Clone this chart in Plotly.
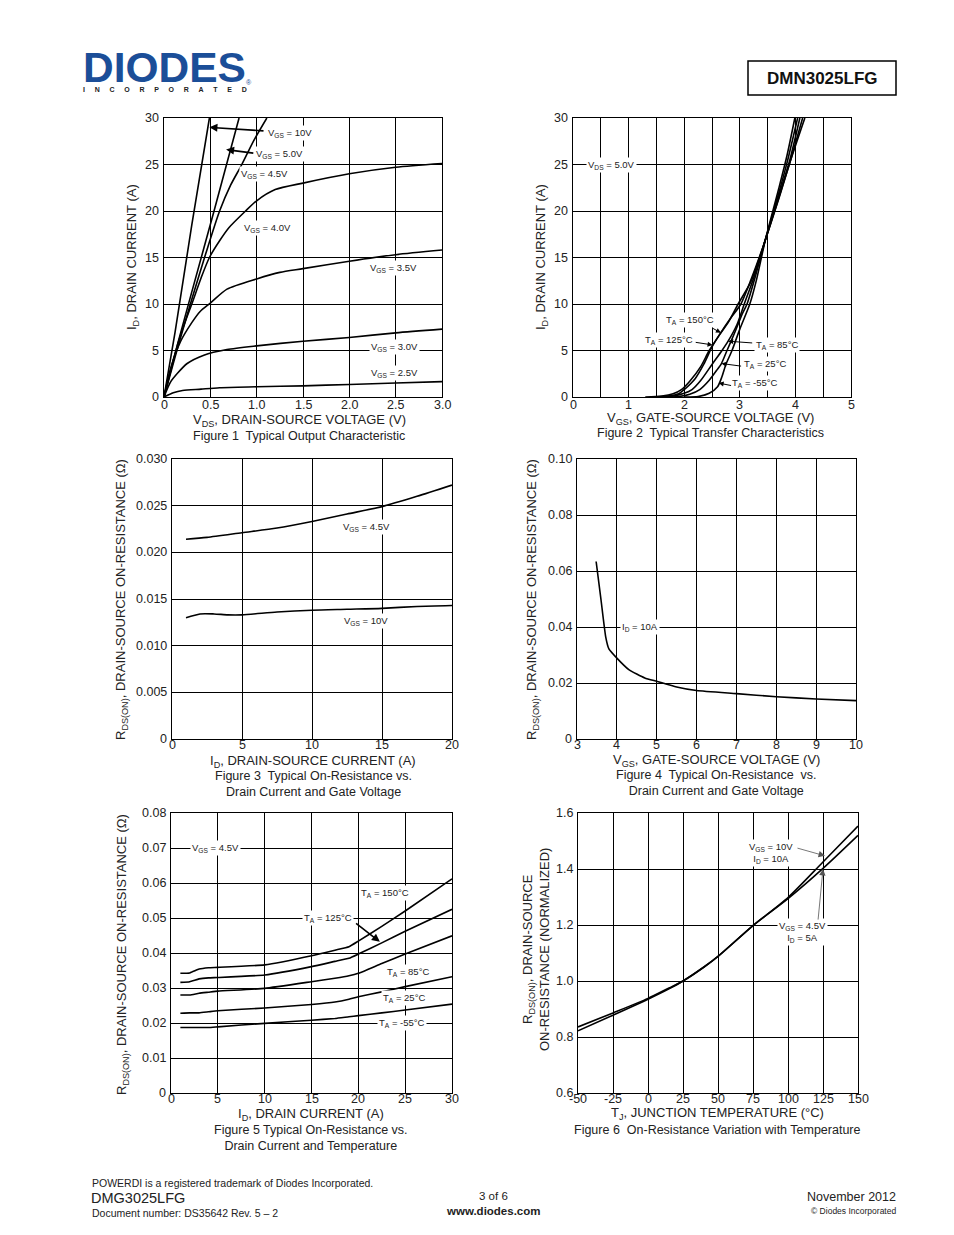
import plotly.graph_objects as go

# Page is 954x1235; the browser body keeps its default 8px margin,
# so the figure itself is 16px smaller and page pixels are shifted by 8.
PAGE_W, PAGE_H = 954, 1235
OFF = 8
W, H = PAGE_W - 2 * OFF, PAGE_H - 2 * OFF
FONT = "Liberation Sans, Arial, sans-serif"

# ---------------- Figure 1: Output characteristic ----------------
f1_vgs10_v = [0, 0.12, 0.30, 0.49]
f1_vgs10_i = [0, 7.0, 18.5, 30]
f1_vgs50_v = [0, 0.15, 0.30, 0.54, 0.81]
f1_vgs50_i = [0, 5.8, 11.3, 20.0, 30]
f1_vgs45_v = [0, 0.15, 0.30, 0.45, 0.60, 0.72, 0.84, 0.97, 1.11]
f1_vgs45_i = [0, 5.4, 10.5, 15.4, 20.0, 22.8, 25.0, 27.6, 30]
f1_vgs40_v = [0, 0.1, 0.2, 0.3, 0.4, 0.49, 0.6, 0.7, 0.88, 1.0, 1.2, 1.5, 2.0, 2.5, 3.0]
f1_vgs40_i = [0, 4.0, 7.3, 10.0, 12.8, 15.0, 16.8, 18.2, 20.0, 21.1, 22.3, 23.0, 24.0, 24.7, 25.1]
f1_vgs35_v = [0, 0.07, 0.18, 0.3, 0.39, 0.5, 0.68, 1.0, 1.25, 1.5, 2.0, 2.5, 3.0]
f1_vgs35_i = [0, 3.0, 6.0, 8.0, 9.2, 10.1, 11.6, 12.7, 13.4, 13.8, 14.6, 15.3, 15.8]
f1_vgs30_v = [0, 0.07, 0.15, 0.25, 0.43, 0.68, 1.0, 1.5, 2.0, 2.5, 3.0]
f1_vgs30_i = [0, 1.6, 2.6, 3.6, 4.5, 5.1, 5.5, 6.0, 6.4, 6.9, 7.3]
f1_vgs25_v = [0, 0.1, 0.2, 0.4, 0.6, 1.0, 1.5, 2.0, 2.5, 3.0]
f1_vgs25_i = [0, 0.45, 0.7, 0.85, 1.0, 1.1, 1.2, 1.35, 1.5, 1.65]

# ---------------- Figure 2: Transfer characteristic ----------------
f2_150_v = [1.3, 1.6, 1.8, 1.95, 2.1, 2.3, 2.45, 2.66, 2.8, 2.97, 3.2, 3.46, 3.7, 3.9, 4.17]
f2_150_i = [0, 0.1, 0.35, 0.8, 1.7, 3.3, 5.0, 6.9, 8.1, 10.0, 12.4, 16.9, 21.3, 25.2, 30]
f2_125_v = [1.4, 1.7, 1.9, 2.0, 2.2, 2.35, 2.51, 2.7, 2.85, 3.02, 3.2, 3.46, 3.7, 3.9, 4.13]
f2_125_i = [0, 0.1, 0.35, 0.8, 2.0, 3.5, 5.5, 7.3, 8.6, 10.0, 12.6, 16.9, 21.4, 25.2, 30]
f2_85_v = [1.5, 1.8, 2.0, 2.14, 2.3, 2.5, 2.68, 2.79, 2.95, 3.08, 3.25, 3.46, 3.7, 3.9, 4.08]
f2_85_i = [0, 0.1, 0.4, 0.8, 1.8, 3.5, 5.0, 6.0, 7.8, 10.0, 12.8, 16.9, 21.6, 25.5, 30]
f2_25_v = [1.6, 1.9, 2.1, 2.28, 2.45, 2.6, 2.67, 2.77, 2.9, 3.05, 3.13, 3.3, 3.46, 3.7, 3.85, 4.04]
f2_25_i = [0, 0.05, 0.3, 0.8, 1.8, 3.0, 3.6, 5.0, 6.8, 9.0, 10.0, 13.4, 16.9, 21.9, 25.2, 30]
f2_m55_v = [2.0, 2.25, 2.45, 2.6, 2.68, 2.75, 2.86, 3.0, 3.18, 3.3, 3.46, 3.7, 3.85, 3.99]
f2_m55_i = [0, 0.05, 0.4, 1.1, 2.2, 3.5, 5.0, 7.3, 10.0, 12.6, 16.9, 22.4, 26.0, 30]

# ---------------- Figure 3: RDS(on) vs ID and VGS ----------------
f3_id = [1, 2.5, 5, 7.5, 10, 12.5, 15, 17.5, 20]
f3_vgs45 = [0.0214, 0.0216, 0.0221, 0.0226, 0.0233, 0.0241, 0.0249, 0.0260, 0.0272]
f3_id10 = [1, 2, 3, 4, 5, 7.5, 10, 12.5, 15, 17.5, 20]
f3_vgs10 = [0.0130, 0.0134, 0.0134, 0.0133, 0.0133, 0.0136, 0.0138, 0.0139, 0.0140, 0.0142, 0.0143]

# ---------------- Figure 4: RDS(on) vs VGS ----------------
f4_vgs = [3.48, 3.6, 3.72, 3.8, 4.0, 4.3, 4.7, 5.0, 5.5, 6.0, 7.0, 8.0, 9.0, 10.0]
f4_rds = [0.0634, 0.050, 0.0365, 0.0322, 0.0289, 0.0248, 0.0218, 0.0206, 0.0186, 0.0173, 0.0162, 0.0151, 0.0143, 0.0137]

# ---------------- Figure 5: RDS(on) vs ID and temperature ----------------
f5_id = [1, 2, 3, 4, 5, 10, 15, 17.5, 19, 20, 22.5, 25, 30]
f5_150 = [0.0342, 0.0343, 0.0354, 0.0358, 0.0359, 0.0366, 0.0392, 0.0408, 0.0418, 0.0434, 0.0476, 0.0520, 0.0612]
f5_125 = [0.0316, 0.0318, 0.0326, 0.0329, 0.0330, 0.0337, 0.0361, 0.0376, 0.0385, 0.0397, 0.0429, 0.0462, 0.0525]
f5_85 = [0.0280, 0.0280, 0.0285, 0.0288, 0.0291, 0.0299, 0.0318, 0.0328, 0.0335, 0.0342, 0.0370, 0.0397, 0.0449]
f5_25 = [0.0228, 0.0229, 0.0229, 0.0232, 0.0235, 0.0243, 0.0253, 0.0260, 0.0268, 0.0275, 0.0289, 0.0304, 0.0332]
f5_m55 = [0.0187, 0.0187, 0.0187, 0.0187, 0.0189, 0.0199, 0.0208, 0.0213, 0.0218, 0.0221, 0.0229, 0.0237, 0.0254]

# ---------------- Figure 6: normalized RDS(on) vs TJ ----------------
f6_tj = [-50, -25, 0, 15, 25, 40, 50, 75, 100, 125, 150]
f6_vgs10 = [0.822, 0.878, 0.935, 0.972, 1.0, 1.05, 1.088, 1.198, 1.298, 1.425, 1.553]
f6_vgs45 = [0.836, 0.886, 0.938, 0.975, 1.0, 1.05, 1.088, 1.198, 1.294, 1.402, 1.520]

# tick values and labels
f1_xticks = [0, 0.5, 1.0, 1.5, 2.0, 2.5, 3.0]
f1_xlabels = ["0", "0.5", "1.0", "1.5", "2.0", "2.5", "3.0"]
f1_yticks = [0, 5, 10, 15, 20, 25, 30]
f1_ylabels = ["0", "5", "10", "15", "20", "25", "30"]
f2_xticks = [0, 1, 2, 3, 4, 5]
f2_xlabels = ["0", "1", "2", "3", "4", "5"]
f3_xticks = [0, 5, 10, 15, 20]
f3_xlabels = ["0", "5", "10", "15", "20"]
f3_yticks = [0, 0.005, 0.010, 0.015, 0.020, 0.025, 0.030]
f3_ylabels = ["0", "0.005", "0.010", "0.015", "0.020", "0.025", "0.030"]
f4_xticks = [3, 4, 5, 6, 7, 8, 9, 10]
f4_xlabels = ["3", "4", "5", "6", "7", "8", "9", "10"]
f4_yticks = [0, 0.02, 0.04, 0.06, 0.08, 0.10]
f4_ylabels = ["0", "0.02", "0.04", "0.06", "0.08", "0.10"]
f5_xticks = [0, 5, 10, 15, 20, 25, 30]
f5_xlabels = ["0", "5", "10", "15", "20", "25", "30"]
f5_yticks = [0, 0.01, 0.02, 0.03, 0.04, 0.05, 0.06, 0.07, 0.08]
f5_ylabels = ["0", "0.01", "0.02", "0.03", "0.04", "0.05", "0.06", "0.07", "0.08"]
f6_xticks = [-50, -25, 0, 25, 50, 75, 100, 125, 150]
f6_xlabels = ["-50", "-25", "0", "25", "50", "75", "100", "125", "150"]
f6_yticks = [0.6, 0.8, 1.0, 1.2, 1.4, 1.6]
f6_ylabels = ["0.6", "0.8", "1.0", "1.2", "1.4", "1.6"]


def px(x):
    return (x - OFF) / W


def py(y):
    return 1 - (y - OFF) / H


fig = go.Figure()


def add(x, y, n, shape="spline", smooth=0.7):
    ax = "" if n == 1 else str(n)
    ln = dict(color="black", width=1.6, shape=shape)
    if shape == "spline":
        ln["smoothing"] = smooth
    fig.add_trace(go.Scatter(x=x, y=y, mode="lines", line=ln,
                             xaxis="x" + ax, yaxis="y" + ax,
                             showlegend=False, hoverinfo="skip"))


add(f1_vgs10_v, f1_vgs10_i, 1)
add(f1_vgs50_v, f1_vgs50_i, 1)
add(f1_vgs45_v, f1_vgs45_i, 1)
add(f1_vgs40_v, f1_vgs40_i, 1)
add(f1_vgs35_v, f1_vgs35_i, 1)
add(f1_vgs30_v, f1_vgs30_i, 1)
add(f1_vgs25_v, f1_vgs25_i, 1)

for xs, ys in [(f2_150_v, f2_150_i), (f2_125_v, f2_125_i), (f2_85_v, f2_85_i),
               (f2_25_v, f2_25_i), (f2_m55_v, f2_m55_i)]:
    add(xs, ys, 2)

add(f3_id, f3_vgs45, 3)
add(f3_id10, f3_vgs10, 3)

add(f4_vgs, f4_rds, 4, smooth=0.5)

for ys in [f5_150, f5_125, f5_85, f5_25, f5_m55]:
    add(f5_id, ys, 5, smooth=0.4)

add(f6_tj, f6_vgs10, 6)
add(f6_tj, f6_vgs45, 6)

TICKFONT = dict(family=FONT, size=12.5, color="#222")

# panel: (left, right), (top, bottom), xrange, yrange, xticks, yticks, x-label drop
panels = {
    1: ((164, 442), (118, 397), [0, 3], [0, 30], (f1_xticks, f1_xlabels), (f1_yticks, f1_ylabels), 8),
    2: ((573, 851), (118, 397), [0, 5], [0, 30], (f2_xticks, f2_xlabels), (f1_yticks, f1_ylabels), 8),
    3: ((172, 452), (459, 739), [0, 20], [0, 0.03], (f3_xticks, f3_xlabels), (f3_yticks, f3_ylabels), 6),
    4: ((577, 856), (459, 739), [3, 10], [0, 0.1], (f4_xticks, f4_xlabels), (f4_yticks, f4_ylabels), 6),
    5: ((171, 452), (813, 1093), [0, 30], [0, 0.08], (f5_xticks, f5_xlabels), (f5_yticks, f5_ylabels), 6),
    6: ((578, 858), (813, 1093), [-50, 150], [0.6, 1.6], (f6_xticks, f6_xlabels), (f6_yticks, f6_ylabels), 6),
}

ann = []
layout_axes = {}
for n, (xd, yd, xr, yr, xt, yt, drop) in panels.items():
    s = "" if n == 1 else str(n)
    common = dict(showline=True, mirror=True, linecolor="black", linewidth=1,
                  showgrid=True, gridcolor="black", gridwidth=1, zeroline=False,
                  ticks="", showticklabels=False, tickmode="array", fixedrange=True)
    xa = dict(common, domain=[px(xd[0]), px(xd[1])], range=xr, tickvals=xt[0], anchor="y" + s)
    ya = dict(common, domain=[py(yd[1]), py(yd[0])], range=yr, tickvals=yt[0], anchor="x" + s)
    layout_axes["xaxis" + s] = xa
    layout_axes["yaxis" + s] = ya
    # tick labels placed just like the datasheet's
    for v, t in zip(*xt):
        ann.append(dict(x=v, xref="x" + s, y=py(yd[1] + drop), yref="paper", text=t,
                        showarrow=False, xanchor="center", yanchor="middle",
                        font=TICKFONT))
    for v, t in zip(*yt):
        ann.append(dict(x=px(xd[0] - 3), xref="paper", y=v, yref="y" + s, text=t,
                        showarrow=False, xanchor="right", yanchor="middle",
                        font=TICKFONT))

# half-volt grid in figure 2
layout_axes["xaxis2"]["minor"] = dict(dtick=0.5, showgrid=True, gridcolor="black",
                                      gridwidth=1, ticks="")


def ptxt(x, y, text, size=13, angle=0, xanchor="center", color="#222", family=FONT):
    ann.append(dict(x=px(x), y=py(y), xref="paper", yref="paper", text=text,
                    showarrow=False, textangle=angle, xanchor=xanchor,
                    yanchor="middle", font=dict(family=family, size=size, color=color)))


def dlabel(n, x, y, text, size=9.5):
    s = "" if n == 1 else str(n)
    ann.append(dict(x=x, y=y, xref="x" + s, yref="y" + s, text=text, showarrow=False,
                    bgcolor="white", borderpad=1,
                    font=dict(family=FONT, size=size, color="#222")))


def darrow(n, hx, hy, tx, ty, width=1.3, color="black", head=2, size=1.0):
    s = "" if n == 1 else str(n)
    ann.append(dict(x=hx, y=hy, ax=tx, ay=ty, xref="x" + s, yref="y" + s,
                    axref="x" + s, ayref="y" + s, text="", showarrow=True,
                    arrowhead=head, arrowsize=size, arrowwidth=width, arrowcolor=color,
                    standoff=0, startstandoff=0))


# Figure 1 labels
dlabel(1, 1.36, 28.4, "V<sub>GS</sub> = 10V")
darrow(1, 0.49, 29.0, 1.09, 28.6, width=1.6)
dlabel(1, 1.25, 26.1, "V<sub>GS</sub> = 5.0V")
darrow(1, 0.67, 26.6, 0.98, 26.2, width=1.6)
dlabel(1, 1.08, 24.0, "V<sub>GS</sub> = 4.5V")
dlabel(1, 1.12, 18.2, "V<sub>GS</sub> = 4.0V")
dlabel(1, 2.48, 13.9, "V<sub>GS</sub> = 3.5V")
dlabel(1, 2.49, 5.4, "V<sub>GS</sub> = 3.0V")
dlabel(1, 2.49, 2.6, "V<sub>GS</sub> = 2.5V")

# Figure 2 labels
dlabel(2, 0.70, 25.0, "V<sub>DS</sub> = 5.0V")
dlabel(2, 2.10, 8.3, "T<sub>A</sub> = 150°C")
darrow(2, 2.66, 6.9, 2.48, 7.5, width=1)
dlabel(2, 1.73, 6.1, "T<sub>A</sub> = 125°C")
darrow(2, 2.51, 5.6, 2.18, 5.9, width=1)
dlabel(2, 3.67, 5.6, "T<sub>A</sub> = 85°C")
darrow(2, 2.79, 6.0, 3.25, 5.8, width=1)
dlabel(2, 3.45, 3.5, "T<sub>A</sub> = 25°C")
darrow(2, 2.67, 3.6, 3.05, 3.3, width=1)
dlabel(2, 3.28, 1.5, "T<sub>A</sub> = -55°C")
darrow(2, 2.62, 1.5, 2.87, 1.2, width=1)

# Figure 3 labels
dlabel(3, 13.86, 0.0227, "V<sub>GS</sub> = 4.5V")
dlabel(3, 13.86, 0.0126, "V<sub>GS</sub> = 10V")

# Figure 4 label
dlabel(4, 4.58, 0.040, "I<sub>D</sub> = 10A")

# Figure 5 labels
dlabel(5, 4.7, 0.070, "V<sub>GS</sub> = 4.5V")
dlabel(5, 22.85, 0.0571, "T<sub>A</sub> = 150°C")
dlabel(5, 16.76, 0.0500, "T<sub>A</sub> = 125°C")
darrow(5, 22.3, 0.0432, 19.6, 0.0488, width=1.6)
dlabel(5, 25.3, 0.0346, "T<sub>A</sub> = 85°C")
dlabel(5, 24.9, 0.0271, "T<sub>A</sub> = 25°C")
dlabel(5, 24.7, 0.0200, "T<sub>A</sub> = -55°C")

# Figure 6 labels
dlabel(6, 87.9, 1.457, "V<sub>GS</sub> = 10V<br>I<sub>D</sub> = 10A")
darrow(6, 126.4, 1.447, 105.7, 1.476, width=0.8, color="#555", size=1.6)
dlabel(6, 110.7, 1.175, "V<sub>GS</sub> = 4.5V<br>I<sub>D</sub> = 5A")
darrow(6, 125.0, 1.400, 121.4, 1.214, width=0.8, color="#555", size=1.6)

# Axis titles and captions
ptxt(299, 420, "V<sub>DS</sub>, DRAIN-SOURCE VOLTAGE (V)")
ptxt(299, 436, "Figure 1  Typical Output Characteristic", size=12.5)
ptxt(132, 257, "I<sub>D</sub>, DRAIN CURRENT (A)", angle=-90)

ptxt(710, 418, "V<sub>GS</sub>, GATE-SOURCE VOLTAGE (V)")
ptxt(710, 433, "Figure 2  Typical Transfer Characteristics", size=12.5)
ptxt(541, 257, "I<sub>D</sub>, DRAIN CURRENT (A)", angle=-90)

ptxt(313, 761, "I<sub>D</sub>, DRAIN-SOURCE CURRENT (A)")
ptxt(313, 784, "Figure 3  Typical On-Resistance vs.<br>Drain Current and Gate Voltage", size=12.5)
ptxt(122, 600, "R<sub>DS(ON)</sub>, DRAIN-SOURCE ON-RESISTANCE (Ω)", angle=-90)

ptxt(716, 760, "V<sub>GS</sub>, GATE-SOURCE VOLTAGE (V)")
ptxt(716, 783, "Figure 4  Typical On-Resistance  vs.<br>Drain Current and Gate Voltage", size=12.5)
ptxt(533, 600, "R<sub>DS(ON)</sub>, DRAIN-SOURCE ON-RESISTANCE (Ω)", angle=-90)

ptxt(311, 1114, "I<sub>D</sub>, DRAIN CURRENT (A)")
ptxt(311, 1138, "Figure 5 Typical On-Resistance vs.<br>Drain Current and Temperature", size=12.5)
ptxt(122, 955, "R<sub>DS(ON)</sub>, DRAIN-SOURCE ON-RESISTANCE (Ω)", angle=-90)

ptxt(717, 1113, "T<sub>J</sub>, JUNCTION TEMPERATURE (°C)")
ptxt(717, 1130, "Figure 6  On-Resistance Variation with Temperature", size=12.5)
ptxt(536, 950, "R<sub>DS(ON)</sub>, DRAIN-SOURCE<br>ON-RESISTANCE (NORMALIZED)", angle=-90)

# Header
ann.append(dict(x=px(81), y=py(67), xref="paper", yref="paper", text="<b>DIODES</b>",
                showarrow=False, xanchor="left", yanchor="middle",
                font=dict(family=FONT, size=42.5, color="#1b4e98")))
ptxt(249, 82, "®", size=7, color="#1b4e98")
ptxt(165, 89, "<b>" + "&nbsp;&nbsp;&nbsp;&nbsp;&nbsp;".join("INCORPORATED") + "</b>",
     size=7, color="#222")
ptxt(822, 78, "<b>DMN3025LFG</b>", size=17, color="#111")

# Footer
ptxt(90, 1183, "POWERDI is a registered trademark of Diodes Incorporated.", size=10.5, xanchor="left")
ptxt(89, 1198, "DMG3025LFG", size=14.5, xanchor="left")
ptxt(90, 1213, "Document number: DS35642 Rev. 5 – 2", size=10.5, xanchor="left")
ptxt(494, 1196, "3 of 6", size=11.5)
ptxt(494, 1211, "<b>www.diodes.com</b>", size=11.5)
ptxt(898, 1197, "November 2012", size=12.5, xanchor="right")
ptxt(898, 1211, "© Diodes Incorporated", size=8.5, xanchor="right")

shapes = [dict(type="rect", xref="paper", yref="paper", x0=px(748), x1=px(896),
               y0=py(95), y1=py(61), line=dict(color="black", width=1.5))]

fig.update_layout(width=W, height=H, autosize=False,
                  margin=dict(l=0, r=0, t=0, b=0, pad=0),
                  paper_bgcolor="white", plot_bgcolor="white",
                  annotations=ann, shapes=shapes, **layout_axes)

fig.write_html("out.html", config={"displayModeBar": False})
